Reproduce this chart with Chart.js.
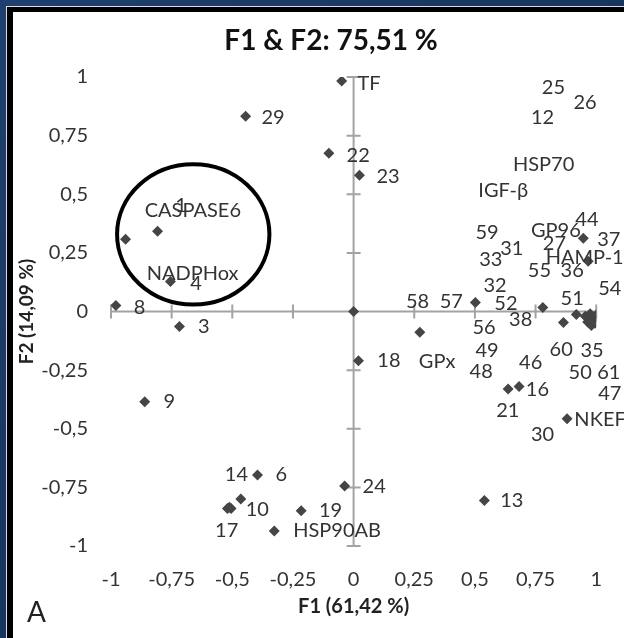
<!DOCTYPE html>
<html>
<head>
<meta charset="utf-8">
<title>F1 & F2: 75,51 %</title>
<script src="https://cdn.jsdelivr.net/npm/chart.js@4.4.1/dist/chart.umd.min.js"></script>
<style>
  html, body { margin: 0; padding: 0; width: 624px; height: 638px; overflow: hidden; }
  body { background: linear-gradient(135deg, #1f3f6e 0%, #183560 50%, #21426f 100%); }
  #frame { position: absolute; left: 6px; top: 6px; width: 700px; height: 700px;
           border-left: 1px solid #d6dde8; border-top: 1px solid #d6dde8; }
  #inner { position: absolute; left: 0; top: 0; width: 694px; height: 695px;
           border-left: 6px solid #000; border-top: 5px solid #000; background: #fff; }
  #wrap { position: absolute; left: 13px; top: 12px; width: 611px; height: 626px; }
</style>
</head>
<body>
<div id="frame"><div id="inner"></div></div>
<div id="wrap"><canvas id="pca-chart"></canvas></div>
<script>
// observations on the F1/F2 plane (variable loadings)
const pointsF1 = [
  -0.445, -0.049, -0.102, 0.024, 0,
  -0.94, -0.808, -0.755, -0.98, -0.718, -0.861,
  -0.396, -0.465, -0.52, -0.505, -0.512, -0.327, -0.216, -0.037,
  0.02, 0.273, 0.539, 0.637, 0.682, 0.88,
  0.502, 0.78, 0.865, 0.918,
  0.955, 0.965, 0.975, 0.98, 0.99, 1.0, 0.995, 0.97, 0.985,
  0.947, 0.967
];
const pointsF2 = [
  0.833, 0.983, 0.675, 0.581, 0,
  0.308, 0.342, 0.128, 0.026, -0.064, -0.385,
  -0.697, -0.80, -0.84, -0.84, -0.835, -0.936, -0.85, -0.744,
  -0.21, -0.088, -0.806, -0.33, -0.32, -0.457,
  0.038, 0.017, -0.047, -0.013,
  -0.02, -0.045, -0.01, -0.06, -0.03, -0.015, -0.05, -0.035, -0.04,
  0.312, 0.214
];

// label texts and where they sit (left edge, middle) in F1/F2 units
const labelTexts = [
  'TF', '29', '22', '23', '25', '26', '12', 'HSP70', 'IGF-\u03b2',
  'CASPASE6', '1', 'NADPHox', '4', '8', '3', '9',
  '59', '31', '33', 'GP96', '44', '37', '27', 'HAMP-1', '55', '36',
  '32', '54', '58', '57', '52', '51', '38', '56', '60', '35', '49',
  '18', 'GPx', '46', '48', '50', '61', '16', '47', '21', 'NKEF', '30',
  '14', '6', '24', '13', '10', '19', '17', 'HSP90AB'
];
const labelF1 = [
  0.016, -0.380, -0.029, 0.094, 0.776, 0.906, 0.731, 0.657, 0.514,
  -0.861, -0.735, -0.853, -0.673, -0.906, -0.641, -0.784,
  0.502, 0.604, 0.518, 0.731, 0.914, 1.004, 0.780, 0.792, 0.718, 0.853,
  0.535, 1.008, 0.216, 0.355, 0.580, 0.853, 0.641, 0.490, 0.808, 0.935, 0.502,
  0.098, 0.269, 0.682, 0.478, 0.886, 1.004, 0.710, 1.008, 0.588, 0.910, 0.731,
  -0.531, -0.322, 0.037, 0.604, -0.445, -0.143, -0.571, -0.249
];
const labelF2 = [
  0.974, 0.829, 0.667, 0.577, 0.953, 0.893, 0.825, 0.628, 0.517,
  0.432, 0.453, 0.162, 0.120, 0.017, -0.064, -0.385,
  0.338, 0.269, 0.222, 0.346, 0.393, 0.308, 0.291, 0.231, 0.175, 0.175,
  0.111, 0.098, 0.043, 0.043, 0.034, 0.056, -0.034, -0.068, -0.162, -0.167, -0.167,
  -0.209, -0.214, -0.218, -0.256, -0.261, -0.261, -0.333, -0.350, -0.423, -0.462, -0.526,
  -0.697, -0.697, -0.748, -0.808, -0.846, -0.850, -0.936, -0.936
];

const tickValues = [-1, -0.75, -0.5, -0.25, 0, 0.25, 0.5, 0.75, 1];

// hand-drawn ellipse around the CASPASE6 / NADPHox group (centre and radii in F1/F2 units)
const circleCentre = [-0.661, 0.329];
const circleRadii = [0.314, 0.299];

const chartTitle = 'F1 & F2: 75,51 %';
const panelLetter = 'A';

const canvas = document.getElementById('pca-chart');
const ctx = canvas.getContext('2d');

const FONT = 'Lato, "Open Sans", sans-serif';

function fmt(v) {
  return String(v).replace('.', ',');
}

// axes crossing at the origin, labels and the annotation ellipse
const decorPlugin = {
  id: 'decor',
  beforeDatasetsDraw(chart) {
    const c = chart.ctx;
    const x = chart.scales.x, y = chart.scales.y;
    const x0 = x.getPixelForValue(0), y0 = y.getPixelForValue(0);
    c.save();
    c.strokeStyle = '#a3a3a3';
    c.lineWidth = 2;
    c.beginPath();
    c.moveTo(x.getPixelForValue(-1), y0);
    c.lineTo(x.getPixelForValue(1), y0);
    c.moveTo(x0, y.getPixelForValue(-1));
    c.lineTo(x0, y.getPixelForValue(1));
    tickValues.forEach(v => {
      const px = x.getPixelForValue(v);
      c.moveTo(px, y0 - 7);
      c.lineTo(px, y0 + 7);
      const py = y.getPixelForValue(v);
      c.moveTo(x0 - 7, py);
      c.lineTo(x0 + 7, py);
    });
    c.stroke();
    c.restore();
  },
  afterDatasetsDraw(chart) {
    const c = chart.ctx;
    const x = chart.scales.x, y = chart.scales.y;
    const area = chart.chartArea;
    c.save();
    // point labels
    c.font = '20px ' + FONT;
    c.fillStyle = '#333';
    c.textAlign = 'left';
    c.textBaseline = 'middle';
    labelTexts.forEach((t, i) => {
      c.fillText(t, x.getPixelForValue(labelF1[i]), y.getPixelForValue(labelF2[i]));
    });
    // ellipse
    const cx = x.getPixelForValue(circleCentre[0]);
    const cy = y.getPixelForValue(circleCentre[1]);
    const rx = x.getPixelForValue(circleCentre[0] + circleRadii[0]) - cx;
    const ry = cy - y.getPixelForValue(circleCentre[1] + circleRadii[1]);
    c.beginPath();
    c.ellipse(cx, cy, rx, ry, 0, 0, Math.PI * 2);
    c.strokeStyle = '#000';
    c.lineWidth = 4;
    c.stroke();
    // title
    c.font = 'bold 28px ' + FONT;
    c.fillStyle = '#111';
    c.textAlign = 'center';
    c.fillText(chartTitle, area.left + 220, area.top - 36);
    // panel letter
    c.font = '28px ' + FONT;
    c.textAlign = 'left';
    c.fillStyle = '#222';
    c.fillText(panelLetter, 14, area.bottom + 67);
    c.restore();
  }
};

const points = pointsF1.map((v, i) => ({ x: v, y: pointsF2[i] }));

new Chart(ctx, {
  type: 'scatter',
  data: {
    datasets: [{
      label: 'variables',
      data: points,
      pointStyle: 'rectRot',
      pointRadius: 5.5,
      pointHoverRadius: 5.5,
      backgroundColor: '#454545',
      borderColor: '#454545',
      borderWidth: 0
    }]
  },
  options: {
    responsive: true,
    maintainAspectRatio: false,
    animation: false,
    // right padding plus the half-width of the last tick label puts x = 1 at the reference spot
    layout: { padding: { top: 65, right: 14, left: 0, bottom: 0 } },
    plugins: {
      legend: { display: false },
      tooltip: { enabled: false },
      title: { display: false }
    },
    scales: {
      x: {
        type: 'linear',
        min: -1,
        max: 1,
        grid: { display: false, drawTicks: false },
        border: { display: false },
        ticks: {
          stepSize: 0.25,
          padding: 22,
          color: '#333',
          font: { family: FONT, size: 20 },
          callback: v => fmt(v)
        },
        title: {
          display: true,
          text: 'F1 (61,42 %)',
          color: '#222',
          font: { family: FONT, size: 20, weight: 'bold' },
          padding: { top: 0, bottom: 19 }
        },
        afterFit: s => { s.height = 92; }
      },
      y: {
        type: 'linear',
        min: -1,
        max: 1,
        grid: { display: false, drawTicks: false },
        border: { display: false },
        ticks: {
          stepSize: 0.25,
          padding: 23,
          color: '#333',
          font: { family: FONT, size: 20 },
          callback: v => fmt(v)
        },
        title: {
          display: true,
          text: 'F2 (14,09 %)',
          color: '#222',
          font: { family: FONT, size: 19, weight: 'bold' },
          padding: { top: 2, bottom: 0 }
        },
        afterFit: s => { s.width = 98; }
      }
    }
  },
  plugins: [decorPlugin]
});
</script>
</body>
</html>
